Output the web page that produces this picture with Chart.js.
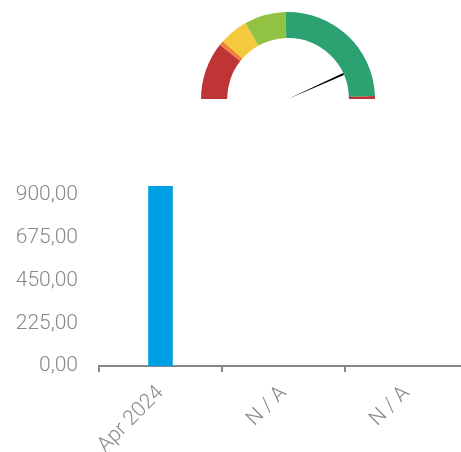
<!DOCTYPE html>
<html>
<head>
<meta charset="utf-8">
<script src="https://cdn.jsdelivr.net/npm/chart.js@4.4.1/dist/chart.umd.min.js"></script>
<style>
  html, body { margin: 0; padding: 0; background: #fff; overflow: hidden; width: 461px; height: 452px; }
  #wrap { position: relative; width: 461px; height: 452px; overflow: hidden; }
  #bar { position: absolute; left: 0; top: 0; }
  #gauge { position: absolute; left: 198px; top: 5px; }
</style>
</head>
<body>
<div id="wrap">
  <canvas id="bar" width="468" height="452"></canvas>
  <canvas id="gauge" width="180" height="101"></canvas>
</div>
<script>
// ---- Gauge data ----
const gaugeBands = [21.4, 1.7, 10.7, 15.3, 49.8, 1.1];   // band widths (percent of scale)
const gaugeValue = 86.6;                                 // needle value (percent of scale)
const gaugeColors = ['#bf3535', '#ee8039', '#f5c93c', '#91c241', '#2ca272', '#bf3535'];

// ---- Bar chart data ----
const categories = ['Apr 2024', 'N / A', 'N / A'];
const barValues = [948, null, null];
const yTickValues = [0, 225, 450, 675, 900];
const yMax = 948;

const grey = '#888888';
const fontFamily = 'Roboto, "Liberation Sans", sans-serif';

const needlePlugin = {
  id: 'needle',
  afterDatasetsDraw(chart) {
    const arc = chart.getDatasetMeta(0).data[0];
    if (!arc) return;
    const cx = arc.x, cy = arc.y;
    const len = arc.innerRadius;
    const total = gaugeBands.reduce((a, b) => a + b, 0);
    const ang = Math.PI + (gaugeValue / total) * Math.PI;
    const tx = cx + Math.cos(ang) * len, ty = cy + Math.sin(ang) * len;
    const px = -Math.sin(ang), py = Math.cos(ang);
    const w = 1.1;
    const ctx = chart.ctx;
    ctx.save();
    ctx.fillStyle = '#000';
    ctx.beginPath();
    ctx.moveTo(cx, cy);
    ctx.lineTo(tx + px * w, ty + py * w);
    ctx.lineTo(tx - px * w, ty - py * w);
    ctx.closePath();
    ctx.fill();
    ctx.restore();
  }
};

new Chart(document.getElementById('gauge'), {
  type: 'doughnut',
  data: {
    labels: gaugeBands.map((_, i) => 'b' + i),
    datasets: [{
      data: gaugeBands,
      backgroundColor: gaugeColors,
      borderWidth: 0
    }]
  },
  options: {
    responsive: false,
    animation: false,
    rotation: -90,
    circumference: 180,
    radius: 87,
    cutout: '70%',
    layout: { padding: 0 },
    plugins: { legend: { display: false }, tooltip: { enabled: false } }
  },
  plugins: [needlePlugin]
});

new Chart(document.getElementById('bar'), {
  type: 'bar',
  data: {
    labels: categories,
    datasets: [{
      data: barValues,
      backgroundColor: '#009fe3',
      borderWidth: 0,
      categoryPercentage: 1,
      barPercentage: 0.2
    }]
  },
  options: {
    responsive: false,
    animation: false,
    layout: { padding: { top: 186, right: 0, bottom: 0, left: 0 } },
    plugins: { legend: { display: false }, tooltip: { enabled: false } },
    scales: {
      x: {
        offset: true,
        grid: { display: true, drawOnChartArea: false, drawTicks: true, tickLength: 6, color: '#888', lineWidth: 2 },
        border: { display: true, color: '#888', width: 2 },
        ticks: {
          color: grey,
          font: { family: fontFamily, size: 21, weight: 300 },
          minRotation: 45, maxRotation: 45,
          padding: 9,
          autoSkip: false
        },
        afterFit(scale) { scale.height = 86; }
      },
      y: {
        min: 0,
        max: yMax,
        grid: { display: false },
        border: { display: false },
        afterBuildTicks(scale) { scale.ticks = yTickValues.map(v => ({ value: v })); },
        ticks: {
          color: grey,
          padding: 13,
          font: { family: fontFamily, size: 21, weight: 300 },
          callback: (v) => Number(v).toFixed(2).replace('.', ',')
        },
        afterFit(scale) { scale.width = 99; }
      }
    }
  }
});
</script>
</body>
</html>
